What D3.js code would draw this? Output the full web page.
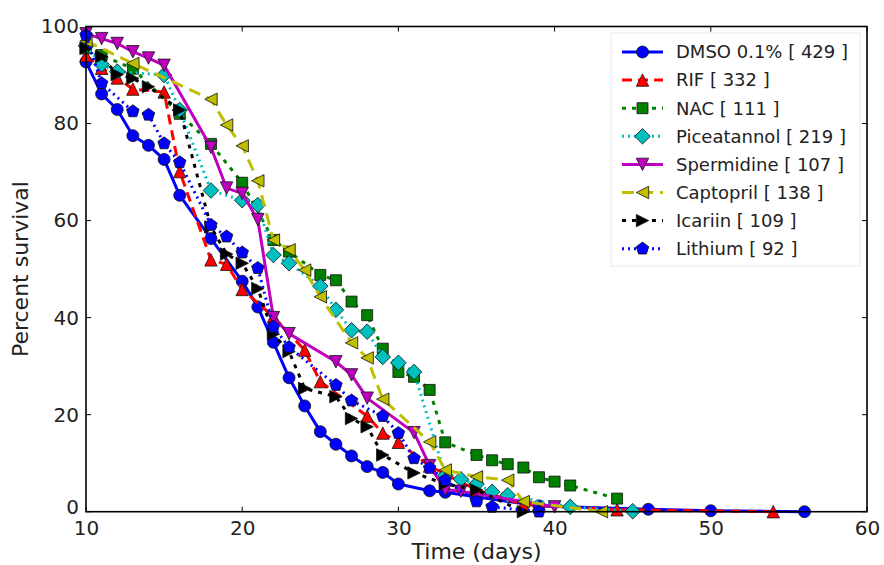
<!DOCTYPE html>
<html>
<head>
<meta charset="utf-8">
<script src="https://cdn.jsdelivr.net/npm/d3@7/dist/d3.min.js"></script>
<style>
  body { margin: 0; background: #fff; }
  svg { display: block; font-family: "DejaVu Sans", sans-serif; }
</style>
</head>
<body>
<svg id="chart" width="884" height="565"></svg>
<script>
// Axis ticks
const xTicks = [10, 20, 30, 40, 50, 60];
const yTicks = [0, 20, 40, 60, 80, 100];

// Survival curves: day of observation and percent alive
const dmsoDays = [10, 11, 12, 13, 14, 15, 16, 18, 20, 21, 22, 23, 24, 25, 26, 27, 28, 29, 30, 32, 33, 39, 46, 50, 56];
const dmsoSurvival = [92.7, 86.1, 82.9, 77.5, 75.5, 72.6, 65.2, 56.3, 47.5, 42.2, 34.9, 27.6, 21.8, 16.5, 13.9, 11.5, 9.3, 8.1, 5.7, 4.3, 4.0, 1.2, 0.5, 0.2, 0];

const rifDays = [10, 11, 12, 13, 15, 16, 18, 19, 20, 22, 24, 25, 28, 29, 30, 32, 35, 38, 44, 54];
const rifSurvival = [94, 91.4, 89.4, 87.1, 86.5, 70.1, 51.9, 51.0, 45.8, 40.2, 33.3, 26.8, 19.7, 16.2, 14.3, 9.4, 4.5, 1.5, 0.4, 0];

const nacDays = [10, 11, 13, 16, 18, 20, 22, 23, 25, 26, 27, 28, 29, 30, 31, 32, 33, 35, 36, 37, 38, 39, 40, 41, 44];
const nacSurvival = [95.5, 94.1, 91.3, 82, 75.8, 67.8, 56, 53.6, 48.8, 47.7, 43.3, 40.5, 33.6, 28.8, 27.8, 25.1, 14.3, 11.7, 10.6, 9.8, 9.1, 7.1, 6.2, 5.4, 2.7];

const piceatannolDays = [10, 11, 12, 15, 16, 18, 20, 21, 22, 23, 25, 26, 27, 28, 29, 30, 31, 33, 34, 35, 36, 37, 41, 45];
const piceatannolSurvival = [96, 92.2, 90.7, 90, 82.8, 66.2, 64.2, 63.2, 52.9, 51.2, 46.5, 41.6, 37.4, 37.1, 31.9, 30.7, 28.8, 7.5, 6.7, 5.7, 4.1, 3.4, 1.0, 0.1];

const spermidineDays = [10, 11, 12, 13, 14, 15, 18, 19, 20, 21, 22, 23, 26, 27, 28, 31, 32, 33, 34, 40];
const spermidineSurvival = [98.5, 97.5, 96.5, 94.8, 93.5, 92, 75.1, 66.7, 65.6, 60.2, 40, 36.7, 30.9, 28.2, 23.4, 16.3, 9.5, 4.5, 4.2, 1.0];

const captoprilDays = [10, 13, 18, 19, 20, 21, 22, 23, 24, 25, 27, 28, 29, 32, 33, 35, 37, 38, 43];
const captoprilSurvival = [97, 92.4, 85, 79.7, 75.4, 68.2, 56, 54, 49.8, 44.3, 34.8, 31.7, 23.2, 14.4, 8.6, 7.2, 6.5, 2.1, 0];

const icariinDays = [10, 11, 12, 13, 14, 16, 18, 19, 20, 21, 22, 23, 24, 26, 27, 28, 29, 31, 33, 35, 38];
const icariinSurvival = [95.5, 93.8, 90.1, 89.3, 87.6, 82.8, 58.7, 53.1, 51.2, 46, 36.6, 33, 25.4, 23.7, 19.2, 17.5, 11.7, 8, 5.7, 4.5, 0];

const lithiumDays = [10, 11, 13, 14, 15, 16, 18, 19, 20, 21, 22, 23, 26, 27, 29, 30, 31, 32, 33, 35, 36, 39];
const lithiumSurvival = [98.2, 88.3, 82.5, 81.8, 75.9, 72, 59.1, 56.7, 53.4, 50.2, 38.1, 33.9, 26.1, 22.9, 19.7, 16.2, 11, 9, 6.5, 2.1, 1.0, 0];

const seriesNames = ["DMSO 0.1% [ 429 ]", "RIF [ 332 ]", "NAC [ 111 ]", "Piceatannol [ 219 ]",
                     "Spermidine [ 107 ]", "Captopril [ 138 ]", "Icariin [ 109 ]", "Lithium [ 92 ]"];

const series = [
  { name: seriesNames[0], days: dmsoDays, vals: dmsoSurvival, color: "#0000ff", dash: null, marker: "circle" },
  { name: seriesNames[1], days: rifDays, vals: rifSurvival, color: "#ff0000", dash: "10,6", marker: "triUp" },
  { name: seriesNames[2], days: nacDays, vals: nacSurvival, color: "#008000", dash: "4,6", marker: "square" },
  { name: seriesNames[3], days: piceatannolDays, vals: piceatannolSurvival, color: "#00bfbf", dash: "2,4", marker: "diamond" },
  { name: seriesNames[4], days: spermidineDays, vals: spermidineSurvival, color: "#bf00bf", dash: null, marker: "triDown" },
  { name: seriesNames[5], days: captoprilDays, vals: captoprilSurvival, color: "#bfbf00", dash: "12,7", marker: "triLeft" },
  { name: seriesNames[6], days: icariinDays, vals: icariinSurvival, color: "#000000", dash: "4,6", marker: "triRight" },
  { name: seriesNames[7], days: lithiumDays, vals: lithiumSurvival, color: "#0000ff", dash: "2,4", marker: "pentagon" }
];

const svg = d3.select("#chart");
const plot = { left: 86, right: 867, top: 26.5, bottom: 511.7 };

const x = d3.scaleLinear().domain([10, 60]).range([plot.left, plot.right]);
const y = d3.scaleLinear().domain([0, 100]).range([plot.bottom, plot.top]);

// Marker outlines centred on the origin
function markerPath(type) {
  const t = 6.2;
  switch (type) {
    case "circle": return d3.symbol(d3.symbolCircle, Math.PI * 6 * 6)();
    case "square": { const h = 5.5; return `M${-h},${-h}H${h}V${h}H${-h}Z`; }
    case "diamond": { const h = 7.8; return `M0,${-h}L${h},0L0,${h}L${-h},0Z`; }
    case "triUp": return `M0,${-t}L${t},${t}L${-t},${t}Z`;
    case "triDown": return `M0,${t}L${t},${-t}L${-t},${-t}Z`;
    case "triLeft": return `M${-t},0L${t},${-t}L${t},${t}Z`;
    case "triRight": return `M${t},0L${-t},${-t}L${-t},${t}Z`;
    case "pentagon": {
      const r = 6.6;
      const pts = d3.range(5).map(k => {
        const a = -Math.PI / 2 + k * 2 * Math.PI / 5;
        return [r * Math.cos(a), r * Math.sin(a)];
      });
      return "M" + pts.map(p => p.join(",")).join("L") + "Z";
    }
  }
}

// Ticks pointing inward on all four sides
const tickLen = 5;
const axes = svg.append("g").attr("class", "ticks");
xTicks.forEach(v => {
  axes.append("line").attr("x1", x(v)).attr("x2", x(v)).attr("y1", plot.bottom).attr("y2", plot.bottom - tickLen)
    .attr("stroke", "#000").attr("stroke-width", 1);
  axes.append("line").attr("x1", x(v)).attr("x2", x(v)).attr("y1", plot.top).attr("y2", plot.top + tickLen)
    .attr("stroke", "#000").attr("stroke-width", 1);
});
yTicks.forEach(v => {
  axes.append("line").attr("x1", plot.left).attr("x2", plot.left + tickLen).attr("y1", y(v)).attr("y2", y(v))
    .attr("stroke", "#000").attr("stroke-width", 1);
  axes.append("line").attr("x1", plot.right).attr("x2", plot.right - tickLen).attr("y1", y(v)).attr("y2", y(v))
    .attr("stroke", "#000").attr("stroke-width", 1);
});

// Tick labels via d3 axes (lines hidden, text only)
const xAxis = svg.append("g").attr("transform", `translate(0,${plot.bottom})`)
  .call(d3.axisBottom(x).tickValues(xTicks).tickSize(0).tickPadding(9).tickFormat(d3.format("d")));
const yAxis = svg.append("g").attr("transform", `translate(${plot.left},0)`)
  .call(d3.axisLeft(y).tickValues(yTicks).tickSize(0).tickPadding(7).tickFormat(d3.format("d")));
[xAxis, yAxis].forEach(a => {
  a.select(".domain").remove();
  a.selectAll("text").attr("font-size", 20).attr("fill", "#222").attr("font-family", "DejaVu Sans, sans-serif");
});
// lowest y label sits just above the axis corner
yAxis.selectAll(".tick").filter(d => d === 0).select("text").attr("dy", "0.1em");

// Curves: each line drawn, then its markers on top
const lineGen = d3.line().x(d => x(d[0])).y(d => y(d[1]));
series.forEach(s => {
  const pts = s.days.map((d, i) => [d, s.vals[i]]);
  const g = svg.append("g");
  g.append("path").datum(pts).attr("d", lineGen)
    .attr("fill", "none").attr("stroke", s.color).attr("stroke-width", 3)
    .attr("stroke-dasharray", s.dash).attr("stroke-linejoin", "round");
  g.selectAll("path.mk").data(pts).join("path").attr("class", "mk")
    .attr("d", markerPath(s.marker))
    .attr("transform", d => `translate(${x(d[0])},${y(d[1])})`)
    .attr("fill", s.color).attr("stroke", "#111").attr("stroke-width", 0.8);
});

// Frame
svg.append("rect").attr("x", plot.left).attr("y", plot.top)
  .attr("width", plot.right - plot.left).attr("height", plot.bottom - plot.top)
  .attr("fill", "none").attr("stroke", "#000").attr("stroke-width", 1.6);

// Axis titles
svg.append("text").attr("x", (plot.left + plot.right) / 2).attr("y", 559)
  .attr("text-anchor", "middle").attr("font-size", 22).attr("fill", "#222").text("Time (days)");
svg.append("text").attr("transform", `translate(28,${(plot.top + plot.bottom) / 2}) rotate(-90)`)
  .attr("text-anchor", "middle").attr("font-size", 22).attr("fill", "#222").text("Percent survival");

// Legend
const legend = svg.append("g").attr("transform", "translate(611,33)");
legend.append("rect").attr("x", 0).attr("y", 0).attr("width", 249).attr("height", 233)
  .attr("fill", "#fff").attr("stroke", "#e4e4e4").attr("stroke-width", 0.8);
series.forEach((s, i) => {
  const cy = 19 + i * 28.1;
  const row = legend.append("g");
  row.append("line").attr("x1", 11).attr("x2", 52).attr("y1", cy).attr("y2", cy)
    .attr("stroke", s.color).attr("stroke-width", 3).attr("stroke-dasharray", s.dash);
  row.append("path").attr("d", markerPath(s.marker)).attr("transform", `translate(31.5,${cy})`)
    .attr("fill", s.color).attr("stroke", "#111").attr("stroke-width", 0.8);
  row.append("text").attr("x", 65).attr("y", cy).attr("dy", "0.35em")
    .attr("font-size", 18).attr("fill", "#222").text(s.name);
});
</script>
</body>
</html>
